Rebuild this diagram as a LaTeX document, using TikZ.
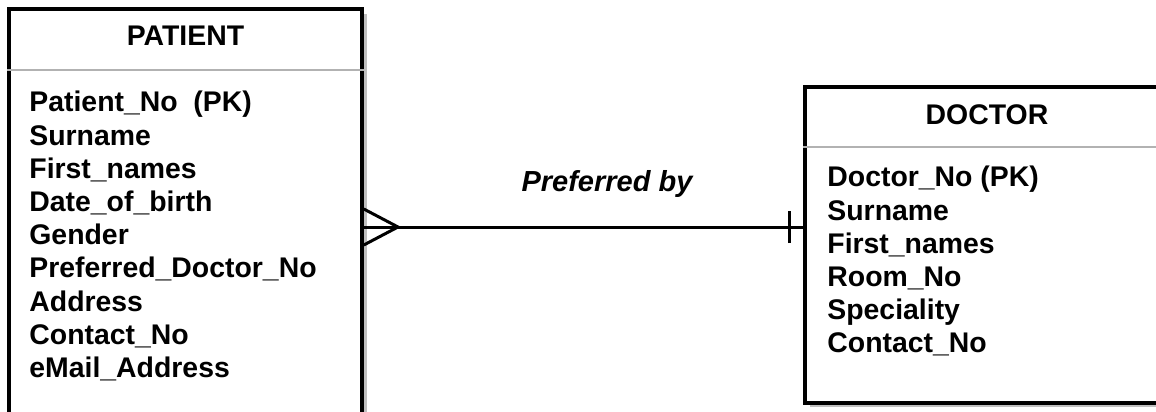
\documentclass[tikz,border=0pt]{standalone}
\usepackage{fontspec}
\setmainfont{Liberation Sans}
\begin{document}
\begin{tikzpicture}[x=0.5pt,y=-0.5pt,
  entity/.style={draw=black, line width=1.8pt, fill=white, inner sep=0pt},
  shadowbox/.style={fill=black!25, draw=none, inner sep=0pt},
  divider/.style={draw=black!30, line width=0.8pt},
  title/.style={font=\fontsize{14.2}{16.5}\selectfont\bfseries, anchor=center, inner sep=0pt},
  attrs/.style={font=\fontsize{14.2}{16.6}\selectfont\bfseries, anchor=north west, align=left, inner sep=0pt},
  conn/.style={draw=black, line width=1.5pt},
  rlabel/.style={font=\fontsize{14.5}{17}\selectfont\bfseries\itshape, anchor=center, inner sep=0pt}]
\useasboundingbox (0,0) rectangle (1156,412);
\clip (0,0) rectangle (1156,412);
% shadows
\node[shadowbox, minimum width=176.5pt, minimum height=210.5pt] (pshadow) at (190,224) {};
\node[shadowbox, minimum width=185pt, minimum height=158pt] (dshadow) at (995,249) {};
% entity boxes
\node[entity, minimum width=176.5pt, minimum height=210.5pt] (patient) at (185.5,219.5) {};
\node[entity, minimum width=185pt, minimum height=158pt] (doctor) at (990,245) {};
% dividers
\draw[divider] (patient.west |- 0,70) -- (patient.east |- 0,70);
\draw[divider] (doctor.west |- 0,147) -- (doctor.east |- 0,147);
% titles
\node[title] (ptitle) at (185.5,36) {PATIENT};
\node[title] (dtitle) at (987,115) {DOCTOR};
% attributes
\node[attrs] (pattrs) at (29,91) {Patient\_No\ \ (PK)\\Surname\\First\_names\\Date\_of\_birth\\Gender\\Preferred\_Doctor\_No\\Address\\Contact\_No\\eMail\_Address};
\node[attrs] (dattrs) at (827,166) {Doctor\_No (PK)\\Surname\\First\_names\\Room\_No\\Speciality\\Contact\_No};
% relationship
\coordinate (rel) at (600,227);
\draw[conn] (rel -| patient.east) -- (rel -| doctor.west);
\coordinate (cf) at (398,227);
\draw[conn] (patient.east |- 0,209) -- (cf) -- (patient.east |- 0,245);
\coordinate (bar) at (789,227);
\draw[conn] ([yshift=16pt*-0.5]bar) -- ([yshift=-16pt*-0.5]bar);
\node[rlabel] (rl) at (607,184) {Preferred by};
\end{tikzpicture}
\end{document}
